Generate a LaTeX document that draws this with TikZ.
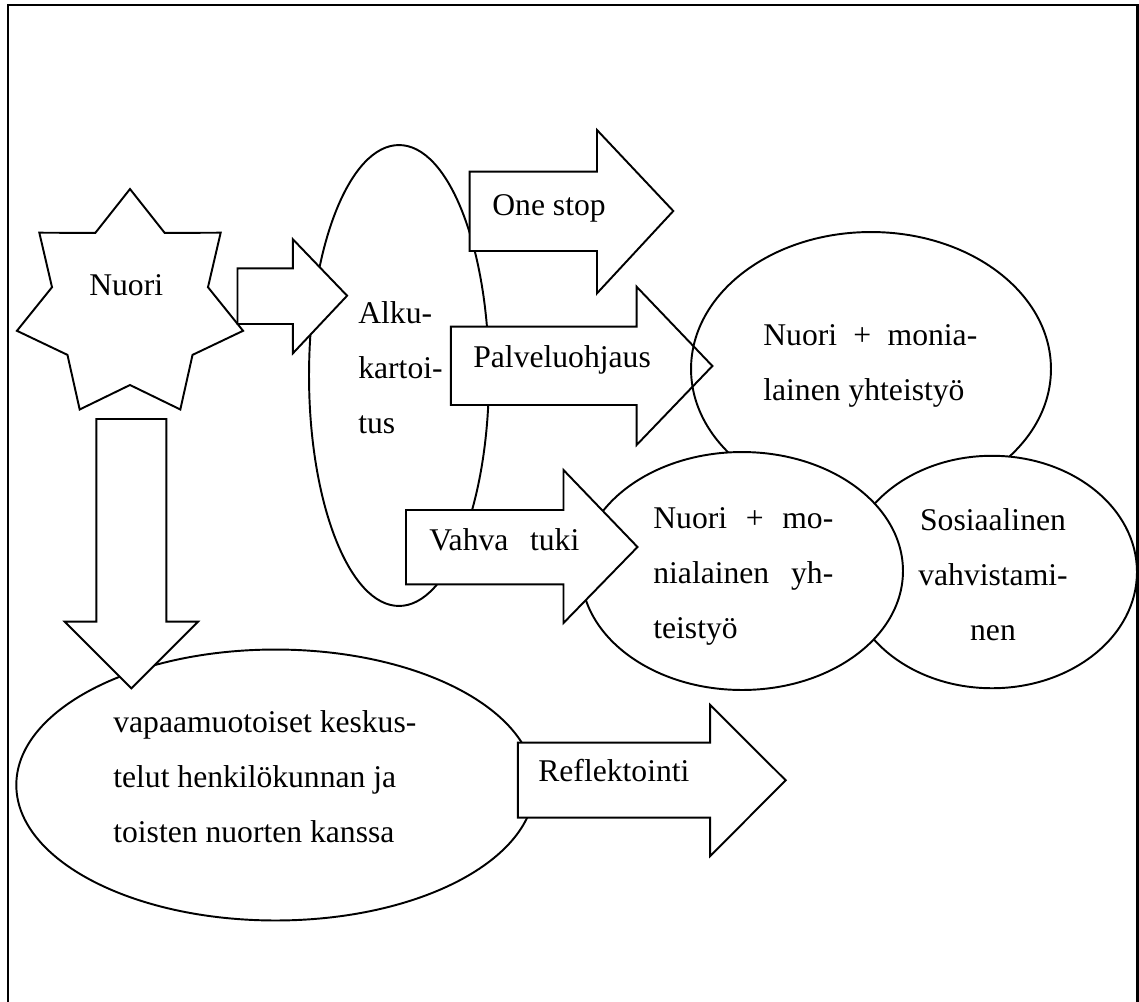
\documentclass[tikz,border=0pt]{standalone}
\usepackage{fontspec}
\setmainfont{Liberation Serif}
\usetikzlibrary{shapes.geometric}

\begin{document}
\begin{tikzpicture}[x=0.02cm, y=-0.02cm]

    \tikzset{
      ShapeStyle/.style = { draw, fill = white, line width = 1.1pt },
      OvalStyle/.style = { ShapeStyle, ellipse, inner sep = 0pt },
      TextStyle/.style = { inner sep = 0pt, align = left,
                           font = \fontsize{18}{31.3}\selectfont } }
      \useasboundingbox (0,0) rectangle (1139,1001);
      \draw[line width = 1.7pt] (8,1010) -- (8,5) -- (1137,5) -- (1137,1010);

      \node[OvalStyle, minimum width = 3.6cm, minimum height = 9.22cm] (alku) at (399,375.5) {};
      \node[ShapeStyle, star, star points = 7, star point ratio = 1.45,
            minimum size = 4.64cm, inner sep = 0pt] (nuori) at (130,305) {};

      % block arrows to the right
      \draw[ShapeStyle] (237.5,268.3) -- (292.9,268.3) -- (292.9,239.3) -- (347.1,295.7)
            -- (292.9,353.3) -- (292.9,324) -- (237.5,324) -- cycle;
      \draw[ShapeStyle] (469.7,171.7) -- (597,171.7) -- (597,130) -- (673.3,211)
            -- (597,293.3) -- (597,251) -- (469.7,251) -- cycle;
      \draw[ShapeStyle] (450.9,326.7) -- (636.6,326.7) -- (636.6,286.7) -- (712.4,366)
            -- (636.6,445) -- (636.6,405) -- (450.9,405) -- cycle;

      \node[draw, ellipse, line width = 1.1pt, inner sep = 0pt,
            minimum width = 7.2cm, minimum height = 5.48cm] (monia) at (871,369) {};
      \node[OvalStyle, minimum width = 5.8cm, minimum height = 4.65cm] (sosiaalinen) at (992,572) {};
      \node[OvalStyle, minimum width = 6.44cm, minimum height = 4.76cm] (mo) at (742,571) {};

      \draw[ShapeStyle] (406,510) -- (563.5,510) -- (563.5,470) -- (637.5,547)
            -- (563.5,623) -- (563.5,584.3) -- (406,584.3) -- cycle;

      \node[OvalStyle, minimum width = 10.37cm, minimum height = 5.42cm] (vapaa) at (275.5,785) {};

      % block arrow down
      \draw[ShapeStyle] (96.4,419) -- (166.4,419) -- (166.4,621.7) -- (198,621.7) -- (131.4,688.3)
            -- (64.8,621.7) -- (96.4,621.7) -- cycle;
      \draw[ShapeStyle] (517.9,742.7) -- (710.2,742.7) -- (710.2,705) -- (785.7,780.3)
            -- (710.2,856) -- (710.2,817.7) -- (517.9,817.7) -- cycle;

    \node[TextStyle, anchor = base west] (nuoritext) at (89,295) {Nuori};
    \node[TextStyle, anchor = base west] (alkutext) at (358,433.3) {Alku-\\kartoi-\\tus};
    \node[TextStyle, anchor = base west] (onestop) at (492,215) {One stop};
    \node[TextStyle, anchor = base west] (palvelu) at (473,367.5) {Palveluohjaus};
    \node[TextStyle, anchor = base west] (vahva) at (429,550) {\makebox[3cm][s]{Vahva tuki}};
    \node[TextStyle, anchor = base west] (reflektointi) at (538,781.7) {Reflektointi};
    \node[TextStyle, anchor = base west] (moniatext) at (763,400)
      {\makebox[4.28cm][s]{Nuori + monia-}\\lainen yhteistyö};
    \node[TextStyle, anchor = base west] (motext) at (653,638.3)
      {\makebox[3.6cm][s]{Nuori + mo-}\\\makebox[3.6cm][s]{nialainen yh-}\\teistyö};
    \node[TextStyle, align = center, anchor = base] (sosiaalinentext) at (993,640)
      {Sosiaalinen\\vahvistami-\\nen};
    \node[TextStyle, anchor = base west] (vapaatext) at (113,842.5)
      {vapaamuotoiset keskus-\\telut henkilökunnan ja\\toisten nuorten kanssa};
    \end{tikzpicture}
\end{document}
